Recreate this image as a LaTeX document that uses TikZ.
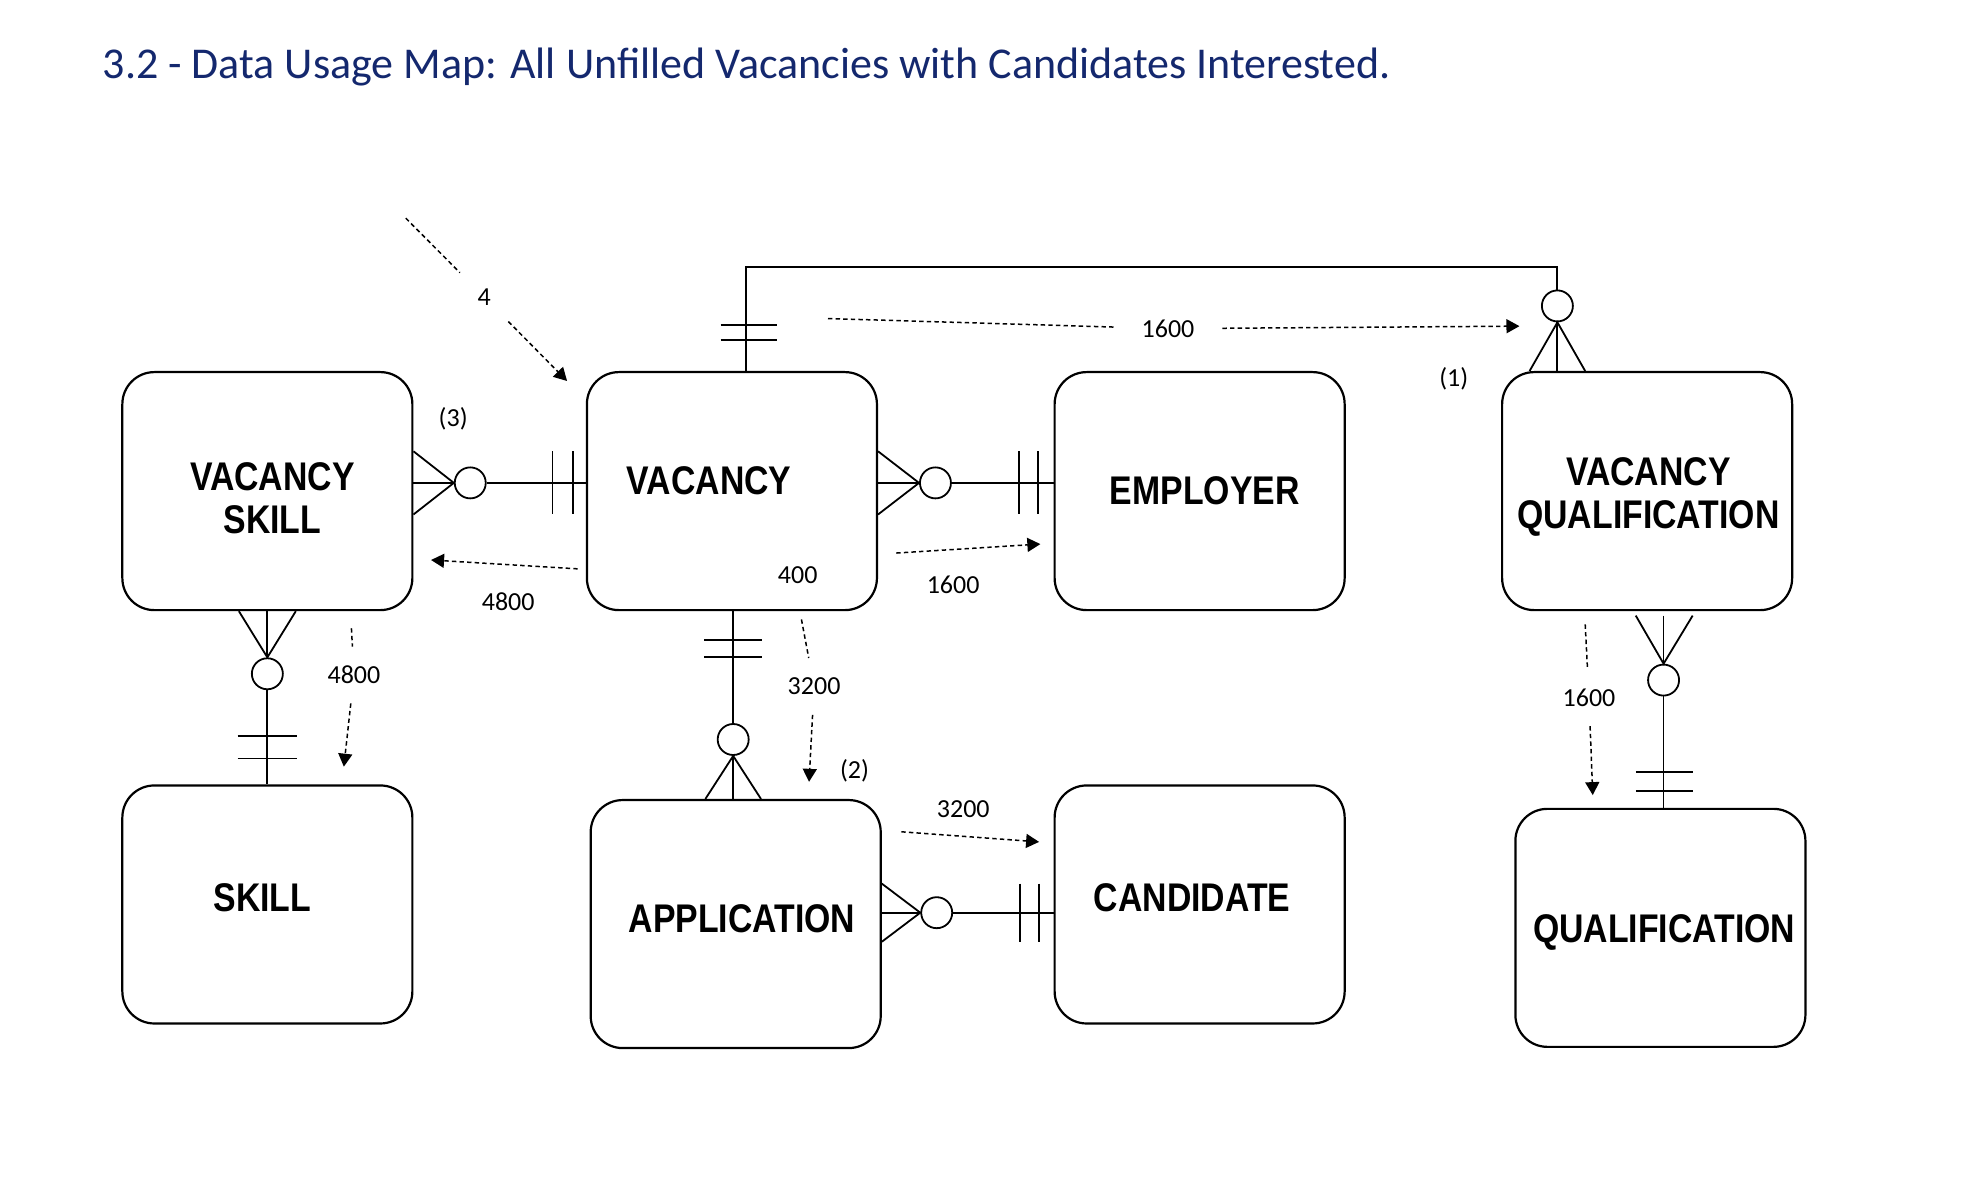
\documentclass[tikz,border=0pt]{standalone}
\usepackage{fontspec}
\setmainfont{Carlito}
\newfontfamily\entityfont{Liberation Sans}[FakeStretch=0.845]
\usepackage{xcolor}
\usetikzlibrary{arrows.meta}
\usetikzlibrary{calc}
\definecolor{titleblue}{RGB}{20,40,110}
\tikzset{>=stealth}
\tikzset{
  entity/.style={draw, line width=1.1pt, rounded corners=16pt, minimum width=145pt, minimum height=119pt, inner sep=0pt},
  entitytext/.style={inner sep=0pt, align=center, font=\entityfont\bfseries\fontsize{20}{21.5}\selectfont},
  numtext/.style={inner sep=1pt, font=\fontsize{13}{15}\selectfont},
  titletext/.style={inner sep=0pt, anchor=base west, text=titleblue, font=\fontsize{22}{26}\selectfont},
  rel/.style={line width=0.9pt},
  ring/.style={circle, draw, line width=0.9pt, fill=white, minimum size=15.5pt, inner sep=0pt},
  flowline/.style={line width=0.75pt, dash pattern=on 2.2pt off 1.6pt},
  flow/.style={flowline, -{Triangle[length=6.5pt,width=7pt]}},
  hgap/.style={numtext, minimum width=54pt},
  vgap/.style={numtext, minimum height=28pt}
}

\begin{document}
\begin{tikzpicture}[x=0.632pt, y=-0.632pt]
        \useasboundingbox (0,0) rectangle (1560,933.5);
        \node[titletext] (title) at (81,62) {3.2 - Data Usage Map: All Unfilled Vacancies with Candidates Interested.};

        % Entities
        \node[entity] (vs) at (211.5,388.5) {};
        \node[entity] (vac) at (579,388.5) {};
        \node[entity] (emp) at (949,388.5) {};
        \node[entity] (vq) at (1303,388.5) {};
        \node[entity] (sk) at (211.5,715.5) {};
        \node[entity, minimum height=124pt] (app) at (582,731) {};
        \node[entity] (cand) at (949,715.5) {};
        \node[entity] (qual) at (1313.5,734) {};

        \node[entitytext] (vs-name) at ($(vs)+(4,6)$) {VACANCY\\SKILL};
        \node[entitytext] (vac-name) at (561,380) {VACANCY};
        \node[numtext] (vac-count) at (631,455) {400};
        \node[entitytext] (emp-name) at ($(emp)+(4,0)$) {EMPLOYER};
        \node[entitytext] (vq-name) at ($(vq)+(1,5)$) {VACANCY\\QUALIFICATION};
        \node[entitytext] (sk-name) at ($(sk)+(-4,-5)$) {SKILL};
        \node[entitytext] (app-name) at ($(app)+(5,-4)$) {APPLICATION};
        \node[entitytext] (cand-name) at ($(cand)+(-6,-5)$) {CANDIDATE};
        \node[entitytext] (qual-name) at ($(qual)+(3,4)$) {QUALIFICATION};

        % VACANCY SKILL - VACANCY
        \node[ring] (r-vs-vac) at (372,382) {};
        \draw[rel] (vs.east |- 0,357) -- (r-vs-vac.west) -- (vs.east |- 0,407);
        \draw[rel] (vs.east |- r-vs-vac) -- (r-vs-vac.west);
        \draw[rel] (r-vs-vac.east) -- (vac.west |- r-vs-vac);
        \draw[rel] (437,357) -- (437,407) (453,357) -- (453,407);

        % VACANCY - EMPLOYER
        \node[ring] (r-vac-emp) at (740,382) {};
        \draw[rel] (vac.east |- 0,357) -- (r-vac-emp.west) -- (vac.east |- 0,407);
        \draw[rel] (vac.east |- r-vac-emp) -- (r-vac-emp.west);
        \draw[rel] (r-vac-emp.east) -- (emp.west |- r-vac-emp);
        \draw[rel] (806,357) -- (806,407) (821,357) -- (821,407);

        % VACANCY SKILL - SKILL
        \node[ring] (r-vs-sk) at (211.5,533) {};
        \draw[rel] (vs.south -| 189,0) -- (r-vs-sk.north) -- (vs.south -| 234,0);
        \draw[rel] (vs.south) -- (r-vs-sk.north);
        \draw[rel] (r-vs-sk.south) -- (sk.north);
        \draw[rel] (188,582) -- (235,582) (188,600) -- (235,600);

        % VACANCY - APPLICATION
        \node[ring] (r-vac-app) at (580,585) {};
        \draw[rel] (r-vac-app |- vac.south) -- (r-vac-app.north);
        \draw[rel] (app.north -| 558,0) -- (r-vac-app.south) -- (app.north -| 602,0);
        \draw[rel] (r-vac-app.south) -- (app.north -| r-vac-app);
        \draw[rel] (557,506) -- (603,506) (557,520) -- (603,520);

        % APPLICATION - CANDIDATE
        \node[ring] (r-app-cand) at (741,722) {};
        \draw[rel] (app.east |- 0,699) -- (r-app-cand.west) -- (app.east |- 0,745);
        \draw[rel] (app.east |- r-app-cand) -- (r-app-cand.west);
        \draw[rel] (r-app-cand.east) -- (cand.west |- r-app-cand);
        \draw[rel] (807,699) -- (807,745) (822,699) -- (822,745);

        % VACANCY - VACANCY QUALIFICATION
        \node[ring] (r-vac-vq) at (1232,242) {};
        \draw[rel] (vac.north -| 590,0) |- (r-vac-vq.north |- 0,211) -- (r-vac-vq.north);
        \draw[rel] (vq.north -| 1210,0) -- (r-vac-vq.south) -- (vq.north -| 1254,0);
        \draw[rel] (r-vac-vq.south) -- (vq.north -| r-vac-vq);
        \draw[rel] (570,257) -- (615,257) (570,269) -- (615,269);

        % VACANCY QUALIFICATION - QUALIFICATION
        \node[ring] (r-vq-qual) at (1316,538) {};
        \draw[rel] (1294,487) -- (r-vq-qual.north) -- (1339,487);
        \draw[rel] (r-vq-qual |- 0,487) -- (r-vq-qual.north);
        \draw[rel] (r-vq-qual.south) -- (qual.north -| r-vq-qual);
        \draw[rel] (1294,611) -- (1339,611) (1294,626) -- (1339,626);

        % Access paths
        \coordinate (f4-a) at (321,172.6);
        \coordinate (f4-b) at (448.6,301.4);
        \node[numtext, circle, minimum size=34pt] (n4) at (383,235) {4};
        \draw[flowline] (f4-a) -- (n4);
        \draw[flow] (n4) -- (f4-b);

        \coordinate (f-vq-a) at (655,252);
        \coordinate (f-vq-b) at (1202,258);
        \node[hgap] (n-vac-vq) at (924,260) {1600};
        \draw[flowline] (f-vq-a) -- (n-vac-vq);
        \draw[flow] (n-vac-vq) -- (f-vq-b);
        \node[numtext] (tag1) at (1150,300) {(1)};

        \coordinate (f-vs-a) at (457,450);
        \coordinate (f-vs-b) at (341,443);
        \draw[flow] (f-vs-a) -- (f-vs-b);
        \node[numtext] (n-vac-vs) at (402,476) {4800};
        \node[numtext] (tag3) at (358.5,331) {(3)};

        \coordinate (f-emp-a) at (709,437.5);
        \coordinate (f-emp-b) at (823,430.4);
        \draw[flow] (f-emp-a) -- (f-emp-b);
        \node[numtext] (n-vac-emp) at (754,463) {1600};

        \coordinate (f-sk-a) at (278,497);
        \coordinate (f-sk-b) at (272,606.5);
        \node[vgap] (n-vs-sk) at (280,534) {4800};
        \draw[flowline] (f-sk-a) -- (n-vs-sk);
        \draw[flow] (n-vs-sk) -- (f-sk-b);

        \coordinate (f-app-a) at (634,490);
        \coordinate (f-app-b) at (640,618.5);
        \node[vgap] (n-vac-app) at (644,543) {3200};
        \draw[flowline] (f-app-a) -- (n-vac-app);
        \draw[flow] (n-vac-app) -- (f-app-b);
        \node[numtext] (tag2) at (676,610) {(2)};

        \coordinate (f-cand-a) at (713,658);
        \coordinate (f-cand-b) at (822,666);
        \draw[flow] (f-cand-a) -- (f-cand-b);
        \node[numtext] (n-app-cand) at (762,640) {3200};

        \coordinate (f-qual-a) at (1254,494);
        \coordinate (f-qual-b) at (1260,629);
        \node[vgap] (n-vq-qual) at (1257,552) {1600};
        \draw[flowline] (f-qual-a) -- (n-vq-qual);
        \draw[flow] (n-vq-qual) -- (f-qual-b);
\end{tikzpicture}
\end{document}
